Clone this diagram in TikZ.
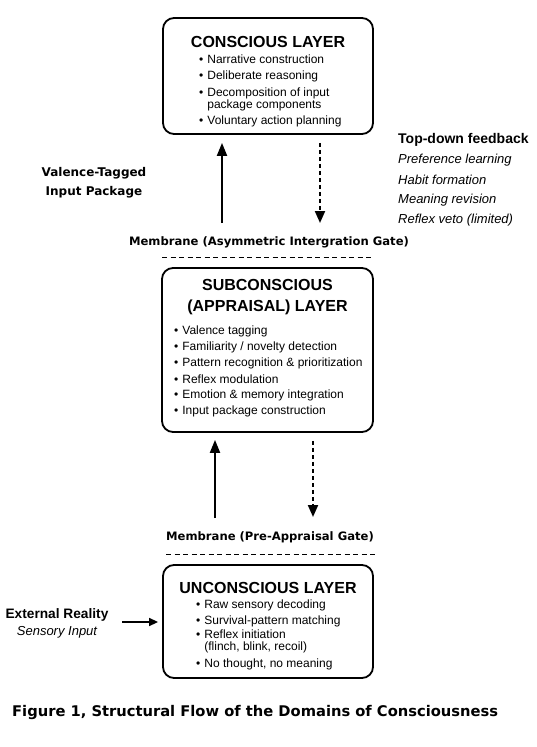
\documentclass[tikz,border=0pt]{standalone}
\usepackage{fontspec}
\setmainfont{Liberation Sans}
\newfontfamily\dvb{DejaVu Sans}
\usetikzlibrary{arrows.meta}
\begin{document}
\begin{tikzpicture}[x=1pt,y=-1pt,
  layerbox/.style={draw,line width=1.8pt,rounded corners=11pt,inner sep=0pt},
  ttl/.style={font=\fontsize{16}{19}\selectfont\bfseries,align=center,inner sep=0pt},
  itm/.style={font=\fontsize{12}{13}\selectfont,anchor=west,inner sep=0pt,align=left},
  memb/.style={font=\dvb\fontsize{11.6}{13}\selectfont\bfseries,inner sep=0pt},
  gate/.style={line width=0.9pt,dash pattern=on 5pt off 3.5pt},
  uparr/.style={line width=2pt,-{Triangle[length=13pt,width=10pt]}},
  dnarr/.style={line width=2pt,dash pattern=on 4pt off 3pt,-{Triangle[length=12pt,width=10pt]}},
  fb/.style={font=\fontsize{13}{14}\selectfont\itshape,anchor=west,inner sep=0pt}]
\useasboundingbox (0,0) rectangle (536,747);
% boxes
\node[layerbox,minimum width=210pt,minimum height=116pt] (top) at (268,76) {};
\node[layerbox,minimum width=211pt,minimum height=164pt] (mid) at (267.5,350) {};
\node[layerbox,minimum width=210pt,minimum height=113pt] (bot) at (268,621.5) {};
% top box text
\node[ttl] (t1) at (268,42) {CONSCIOUS LAYER};
\node[itm] (t1a) at (199,59) {•\hspace{4pt}Narrative construction};
\node[itm] (t1b) at (199,76) {•\hspace{4pt}Deliberate reasoning};
\node[itm] (t1c) at (199,99.5) {\begin{tabular}{@{}l@{\hspace{4pt}}l@{}}•&Decomposition of input\\[-1pt] &package components\end{tabular}};
\node[itm] (t1d) at (199,121) {•\hspace{4pt}Voluntary action planning};
% middle box text
\node[ttl] (t2) at (267.5,297) {SUBCONSCIOUS\\[2pt](APPRAISAL) LAYER};
\node[itm] (t2a) at (174,331) {•\hspace{4pt}Valence tagging};
\node[itm] (t2b) at (174,347) {•\hspace{4pt}Familiarity / novelty detection};
\node[itm] (t2c) at (174,363) {•\hspace{4pt}Pattern recognition \& prioritization};
\node[itm] (t2d) at (174,379) {•\hspace{4pt}Reflex modulation};
\node[itm] (t2e) at (174,395) {•\hspace{4pt}Emotion \& memory integration};
\node[itm] (t2f) at (174,411) {•\hspace{4pt}Input package construction};
% bottom box text
\node[ttl] (t3) at (268,588) {UNCONSCIOUS LAYER};
\node[itm] (t3a) at (196,605) {•\hspace{4pt}Raw sensory decoding};
\node[itm] (t3b) at (196,621) {•\hspace{4pt}Survival-pattern matching};
\node[itm] (t3c) at (196,642) {\begin{tabular}{@{}l@{\hspace{4pt}}l@{}}•&Reflex initiation\\[-1pt] &(flinch, blink, recoil)\end{tabular}};
\node[itm] (t3d) at (196,664) {•\hspace{4pt}No thought, no meaning};
% membranes
\node[memb] (m1) at (269,242) {Membrane (Asymmetric Intergration Gate)};
\coordinate (g1a) at (162,257); \coordinate (g1b) at (373,257);
\draw[gate] (g1a) -- (g1b);
\node[memb] (m2) at (270,537) {Membrane (Pre-Appraisal Gate)};
\coordinate (g2a) at (166,554); \coordinate (g2b) at (377,554);
\draw[gate] (g2a) -- (g2b);
% arrows upper
\coordinate (u1) at (222,223);
\draw[uparr,shorten >=8pt] (u1) -- (u1 |- top.south);
\coordinate (d1) at (320,223);
\draw[dnarr,shorten <=8pt] (d1 |- top.south) -- (d1);
% arrows lower
\coordinate (u2) at (215,518);
\draw[uparr,shorten >=7pt] (u2) -- (u2 |- mid.south);
\coordinate (d2) at (313,517);
\draw[dnarr,shorten <=8pt] (d2 |- mid.south) -- (d2);
% side labels
\node[memb,align=center,font=\dvb\fontsize{12}{19}\selectfont\bfseries] (vt) at (94,183) {Valence-Tagged\\Input Package};
\node[anchor=west,inner sep=0pt,font=\fontsize{14}{16}\selectfont\bfseries] (tdf) at (398,140) {Top-down feedback};
\node[fb] (f1) at (398,160) {Preference learning};
\node[fb] (f2) at (398,180) {Habit formation};
\node[fb] (f3) at (398,200) {Meaning revision};
\node[fb] (f4) at (398,220) {Reflex veto (limited)};
% external reality
\node[inner sep=0pt,font=\fontsize{13.7}{16}\selectfont\bfseries] (ext) at (57,615) {External Reality};
\node[inner sep=0pt,font=\fontsize{13}{15}\selectfont\itshape] (sens) at (57,632) {Sensory Input};
\coordinate (e1) at (122,622);
\draw[line width=1.5pt,-{Triangle[length=9pt,width=8pt]}] (e1) -- (e1 -| bot.west) [shorten >=4pt];
% caption
\node[inner sep=0pt,anchor=west,font=\dvb\fontsize{14.7}{16}\selectfont\bfseries] (cap) at (12,712) {Figure 1, Structural Flow of the Domains of Consciousness};
\end{tikzpicture}
\end{document}
